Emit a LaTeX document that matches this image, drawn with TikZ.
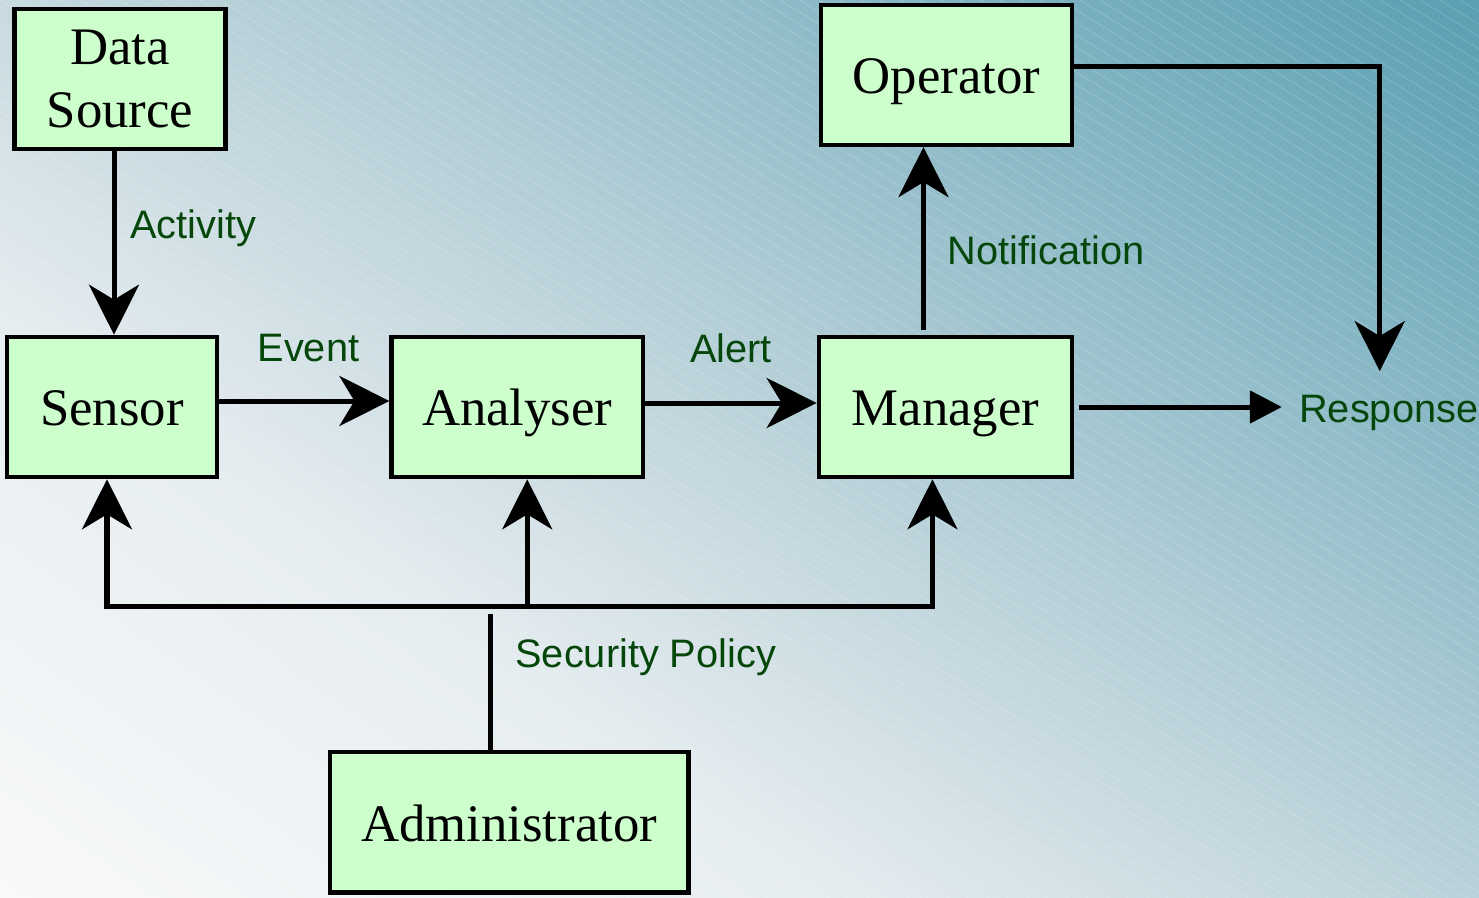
\documentclass[tikz,border=0pt]{standalone}
\usepackage{fontspec}
\setmainfont{Liberation Serif}
\newfontfamily\lblfamily{Liberation Sans}
\usetikzlibrary{arrows.meta}
\definecolor{boxgreen}{HTML}{CCFFCC}
\definecolor{lblgreen}{RGB}{5,70,10}
\definecolor{bgtop}{HTML}{5A9FB2}
\definecolor{bgupper}{HTML}{8DBAC7}
\definecolor{bgmid}{HTML}{C0D5DC}
\definecolor{bglow}{HTML}{E6EDF0}
\definecolor{bgbot}{HTML}{F8F9FA}
\pgfdeclareverticalshading{bgshade}{100bp}{color(0bp)=(bgbot); color(25bp)=(bgbot); color(40bp)=(bglow); color(50bp)=(bgmid); color(62.5bp)=(bgupper); color(75bp)=(bgtop); color(100bp)=(bgtop)}
\newcommand{\boxfont}{\fontsize{15pt}{18pt}\selectfont}
\newcommand{\lblfont}{\lblfamily\fontsize{11.3pt}{13.5pt}\selectfont}
\tikzstyle{box} = [rectangle, minimum height=1.40cm, text centered, draw=black, fill=boxgreen, line width=0.045cm, font=\boxfont, text height=10.8pt, text depth=0pt]
\tikzstyle{lbl} = [font=\lblfont, text=lblgreen, text height=8.1pt, text depth=2.4pt]
\tikzstyle{conn} = [line width=0.05cm]
\tikzstyle{arrow} = [conn, -{Stealth[length=0.5cm, width=0.5cm, inset=0.15cm]}]
\tikzstyle{sarrow} = [conn, -{Triangle[length=0.32cm, width=0.32cm]}]

\begin{document}
\begin{tikzpicture}[x=0.01cm, y=-0.01cm, node distance=4cm]
	% background
	\useasboundingbox (0,0) rectangle (1479,897);
	\begin{scope}
		\clip (0,0) rectangle (1479,897);
		\shade [shading=bgshade, shading angle=-35] (-52.5,-343.5) rectangle ++(1584,1584);
		\foreach \i in {-1480,-1460,...,1480}
			\draw [white, opacity=0.15, line width=0.01cm] (\i,0) -- ++(1479,917);
	\end{scope}
	% boxes
	\node (S) [box, minimum width=2.10cm] at (112,407) {Sensor};
	\node (A) [box, minimum width=2.51cm, right of=S, xshift=0.05cm] {Analyser};
	\node (M) [box, minimum width=2.53cm, right of=A, xshift=0.28cm] {Manager};
	\node (O) [box, minimum width=2.51cm, above of=M, xshift=0.01cm, yshift=-0.68cm] {Operator};
	\node (DS) [box, minimum width=2.11cm, align=center, text height=, text depth=, above of=S, xshift=0.08cm, yshift=-0.72cm] {Data\\Source};
	\node (Adm) [box, minimum width=3.58cm, below of=A, xshift=-0.08cm, yshift=-0.15cm] {Administrator};
	\node (R) [lbl, right of=M, xshift=0.43cm, yshift=-0.05cm] {Response};
	\coordinate (bus) at (0,606);
	\coordinate (adm) at (0,614);
	% connectors
	\draw [arrow] ([xshift=-0.06cm]DS.south) -- node[lbl, right=0.02cm, pos=0.42]{Activity} ([xshift=-0.06cm]DS.south |- S.north);
	\draw [arrow] ([yshift=0.06cm]S.east) -- node[lbl, above=0.17cm, xshift=0.04cm]{Event} ([yshift=0.06cm]S.east -| A.west);
	\draw [arrow] ([yshift=0.04cm]A.east) -- node[lbl, above=0.18cm]{Alert} ([yshift=0.04cm]A.east -| M.west);
	\draw [arrow, shorten <=0.05cm] ([xshift=-0.22cm]M.north) -- node[lbl, right=0.1cm, pos=0.43]{Notification} ([xshift=-0.22cm]M.north |- O.south);
	\draw [sarrow, shorten <=0.05cm, shorten >=0.05cm] (M.east) -- (M.east -| R.west);
	\draw [arrow, shorten >=0.1cm] ([yshift=0.08cm]O.east) -| ([xshift=-0.09cm]R.north);
	% security policy
	\draw [arrow] ([xshift=0.1cm]A.south |- bus) -- ([xshift=0.1cm]A.south);
	\draw [arrow] ([xshift=0.1cm]A.south |- bus) -| ([xshift=-0.05cm]S.south);
	\draw [arrow] ([xshift=0.1cm]A.south |- bus) -| ([xshift=-0.13cm]M.south);
	\draw [conn] ([xshift=-0.19cm]Adm.north) -- node[lbl, right=0.11cm, pos=0.68]{Security Policy} ([xshift=-0.19cm]Adm.north |- adm);
\end{tikzpicture}
\end{document}
